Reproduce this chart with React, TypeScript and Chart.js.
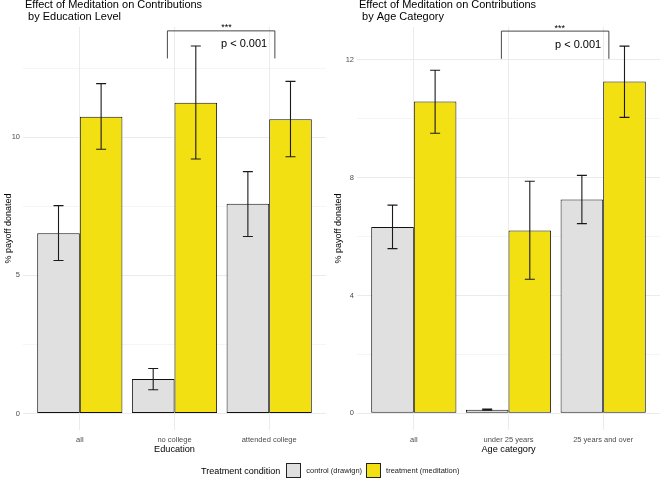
import { useEffect, useRef } from "react";
import { Chart, registerables } from "chart.js";

Chart.register(...registerables);

const FONT = "'Liberation Sans', Arial, sans-serif";
const CONTROL_FILL = "#e0e0e0";
const TREATMENT_FILL = "#f3e012";

// education panel
const eduCategories = ["all", "no college", "attended college"];
const eduControl = [6.53, 1.25, 7.6];
const eduControlLow = [5.54, 0.86, 6.41];
const eduControlHigh = [7.53, 1.63, 8.76];
const eduTreatment = [10.75, 11.26, 10.66];
const eduTreatmentLow = [9.57, 9.22, 9.3];
const eduTreatmentHigh = [11.95, 13.31, 12.03];
const eduYTicks = [0, 2.5, 5, 7.5, 10, 12.5];
const eduYLabels = [0, 5, 10];

// age panel
const ageCategories = ["all", "under 25 years", "25 years and over"];
const ageControl = [6.33, 0.12, 7.26];
const ageControlLow = [5.59, 0.1, 6.44];
const ageControlHigh = [7.07, 0.14, 8.08];
const ageTreatment = [10.59, 6.21, 11.27];
const ageTreatmentLow = [9.51, 4.55, 10.05];
const ageTreatmentHigh = [11.65, 7.88, 12.47];
const ageYTicks = [0, 2, 4, 6, 8, 10, 12];
const ageYLabels = [0, 4, 8, 12];

type Signif = { from: number; to: number; low: number; high: number; starsX: number; pX: number; pY: number };

type Panel = {
  title: string[];
  categories: string[];
  control: number[];
  controlLow: number[];
  controlHigh: number[];
  treatment: number[];
  treatmentLow: number[];
  treatmentHigh: number[];
  xTitle: string;
  yTicks: number[];
  yLabels: number[];
  yMin: number;
  yMax: number;
  axisWidth: number;
  padRight: number;
  signif: Signif;
};

const eduPanel: Panel = {
  title: ["Effect of Meditation on Contributions", " by Education Level"],
  categories: eduCategories,
  control: eduControl,
  controlLow: eduControlLow,
  controlHigh: eduControlHigh,
  treatment: eduTreatment,
  treatmentLow: eduTreatmentLow,
  treatmentHigh: eduTreatmentHigh,
  xTitle: "Education",
  yTicks: eduYTicks,
  yLabels: eduYLabels,
  yMin: -0.6,
  yMax: 14.0,
  axisWidth: 23,
  padRight: 4,
  signif: { from: 0.925, to: 2.06, low: 12.86, high: 13.86, starsX: 1.55, pX: 1.735, pY: 13.26 },
};

const agePanel: Panel = {
  title: ["Effect of Meditation on Contributions", " by Age Category"],
  categories: ageCategories,
  control: ageControl,
  controlLow: ageControlLow,
  controlHigh: ageControlHigh,
  treatment: ageTreatment,
  treatmentLow: ageTreatmentLow,
  treatmentHigh: ageTreatmentHigh,
  xTitle: "Age category",
  yTicks: ageYTicks,
  yLabels: ageYLabels,
  yMin: -0.57,
  yMax: 13.12,
  axisWidth: 27,
  padRight: 0,
  signif: { from: 0.925, to: 2.06, low: 12.04, high: 12.98, starsX: 1.54, pX: 1.735, pY: 12.42 },
};

function errorBars(lows: number[][], highs: number[][]) {
  return {
    id: "errorBars",
    afterDatasetsDraw(chart: Chart) {
      const { ctx } = chart;
      const y = chart.scales.y;
      const cap = 5;
      ctx.save();
      ctx.strokeStyle = "#1a1a1a";
      ctx.lineWidth = 1.1;
      chart.data.datasets.forEach((_, di) => {
        chart.getDatasetMeta(di).data.forEach((bar, i) => {
          const x = bar.x;
          const top = y.getPixelForValue(highs[di][i]);
          const bottom = y.getPixelForValue(lows[di][i]);
          ctx.beginPath();
          ctx.moveTo(x, top);
          ctx.lineTo(x, bottom);
          ctx.moveTo(x - cap, top);
          ctx.lineTo(x + cap, top);
          ctx.moveTo(x - cap, bottom);
          ctx.lineTo(x + cap, bottom);
          ctx.stroke();
        });
      });
      ctx.restore();
    },
  };
}

function decorations(p: Panel) {
  return {
    id: "decorations",
    afterDraw(chart: Chart) {
      const { ctx, chartArea } = chart;
      const x = chart.scales.x;
      const y = chart.scales.y;
      const s = p.signif;
      ctx.save();
      ctx.fillStyle = "#000";
      ctx.font = `11px ${FONT}`;
      ctx.textAlign = "left";
      ctx.textBaseline = "alphabetic";
      ctx.fillText(p.title[0], chartArea.left + 2, 8);
      ctx.fillText(p.title[1], chartArea.left + 2, 20);

      const x1 = x.getPixelForValue(s.from);
      const x2 = x.getPixelForValue(s.to);
      const yTop = y.getPixelForValue(s.high);
      const yBot = y.getPixelForValue(s.low);
      ctx.strokeStyle = "#333";
      ctx.lineWidth = 0.9;
      ctx.beginPath();
      ctx.moveTo(x1, yBot);
      ctx.lineTo(x1, yTop);
      ctx.lineTo(x2, yTop);
      ctx.lineTo(x2, yBot);
      ctx.stroke();

      ctx.textAlign = "center";
      ctx.font = `9px ${FONT}`;
      ctx.fillText("***", x.getPixelForValue(s.starsX), yTop - 0.5);
      ctx.font = `11px ${FONT}`;
      ctx.fillText("p < 0.001", x.getPixelForValue(s.pX), y.getPixelForValue(s.pY));
      ctx.restore();
    },
  };
}

function PanelChart({ panel }: { panel: Panel }) {
  const canvasRef = useRef<HTMLCanvasElement | null>(null);

  useEffect(() => {
    if (!canvasRef.current) return;
    const p = panel;
    const idx = p.categories.map((_, i) => i);
    const chart = new Chart(canvasRef.current, {
      type: "bar",
      data: {
        datasets: [
          {
            label: "control (drawign)",
            data: idx.map((i) => ({ x: i, y: p.control[i] })),
            backgroundColor: CONTROL_FILL,
            borderColor: "#111",
            borderWidth: 1,
            borderSkipped: false,
          },
          {
            label: "treatment (meditation)",
            data: idx.map((i) => ({ x: i, y: p.treatment[i] })),
            backgroundColor: TREATMENT_FILL,
            borderColor: "#111",
            borderWidth: 1,
            borderSkipped: false,
          },
        ],
      },
      options: {
        responsive: false,
        animation: false,
        layout: { padding: { top: 27, left: 0, right: p.padRight, bottom: 0 } },
        datasets: { bar: { categoryPercentage: 0.9, barPercentage: 1 } },
        plugins: { legend: { display: false }, tooltip: { enabled: false }, title: { display: false } },
        scales: {
          x: {
            type: "linear",
            min: -0.6,
            max: 2.6,
            offset: false,
            afterBuildTicks: (scale: any) => {
              scale.ticks = idx.map((v) => ({ value: v }));
            },
            afterFit: (scale: any) => {
              scale.height = 48;
            },
            grid: { offset: false, color: "#ebebeb", lineWidth: 1, drawTicks: false },
            border: { display: false },
            ticks: {
              padding: 5,
              maxRotation: 0,
              autoSkip: false,
              color: "#4d4d4d",
              font: { family: FONT, size: 7.5 },
              callback: (v: any) => p.categories[Number(v)] ?? "",
            },
            title: {
              display: true,
              text: p.xTitle,
              color: "#000",
              font: { family: FONT, size: 9.2 },
              padding: { top: 0, bottom: 23 },
            },
          },
          y: {
            type: "linear",
            min: p.yMin,
            max: p.yMax,
            afterBuildTicks: (scale: any) => {
              scale.ticks = p.yTicks.map((v) => ({ value: v }));
            },
            afterFit: (scale: any) => {
              scale.width = p.axisWidth;
            },
            grid: {
              color: "#ebebeb",
              drawTicks: false,
              lineWidth: (c: any) => (c.tick && p.yLabels.includes(c.tick.value) ? 1 : 0.5),
            },
            border: { display: false },
            ticks: {
              padding: 3,
              color: "#4d4d4d",
              font: { family: FONT, size: 7.5 },
              callback: (v: any) => (p.yLabels.includes(Number(v)) ? String(v) : ""),
            },
            title: {
              display: true,
              text: "% payoff donated",
              color: "#000",
              font: { family: FONT, size: 9 },
              padding: { top: 3, bottom: 0 },
            },
          },
        },
      },
      plugins: [
        errorBars([p.controlLow, p.treatmentLow], [p.controlHigh, p.treatmentHigh]),
        decorations(p),
      ],
    });
    return () => chart.destroy();
  }, [panel]);

  return <canvas ref={canvasRef} width={330} height={478} style={{ display: "block" }} />;
}

function LegendBox({ fill }: { fill: string }) {
  return (
    <span
      style={{
        display: "inline-block",
        width: 13,
        height: 13,
        background: fill,
        border: "1px solid #222",
      }}
    />
  );
}

export default function App() {
  return (
    <div
      style={{
        position: "fixed",
        left: 0,
        top: 0,
        width: 660,
        height: 478,
        background: "#fff",
        fontFamily: FONT,
      }}
    >
      <div style={{ position: "absolute", left: 0, top: 0 }}>
        <PanelChart panel={eduPanel} />
      </div>
      <div style={{ position: "absolute", left: 330, top: 0 }}>
        <PanelChart panel={agePanel} />
      </div>
      <div
        style={{
          position: "absolute",
          left: 201,
          top: 463,
          height: 15,
          display: "flex",
          alignItems: "center",
          whiteSpace: "nowrap",
          color: "#000",
        }}
      >
        <span style={{ fontSize: 9, marginRight: 6 }}>Treatment condition</span>
        <LegendBox fill={CONTROL_FILL} />
        <span style={{ fontSize: 7.5, marginLeft: 5, marginRight: 4, color: "#222" }}>control (drawign)</span>
        <LegendBox fill={TREATMENT_FILL} />
        <span style={{ fontSize: 7.5, marginLeft: 5, color: "#222" }}>treatment (meditation)</span>
      </div>
    </div>
  );
}
